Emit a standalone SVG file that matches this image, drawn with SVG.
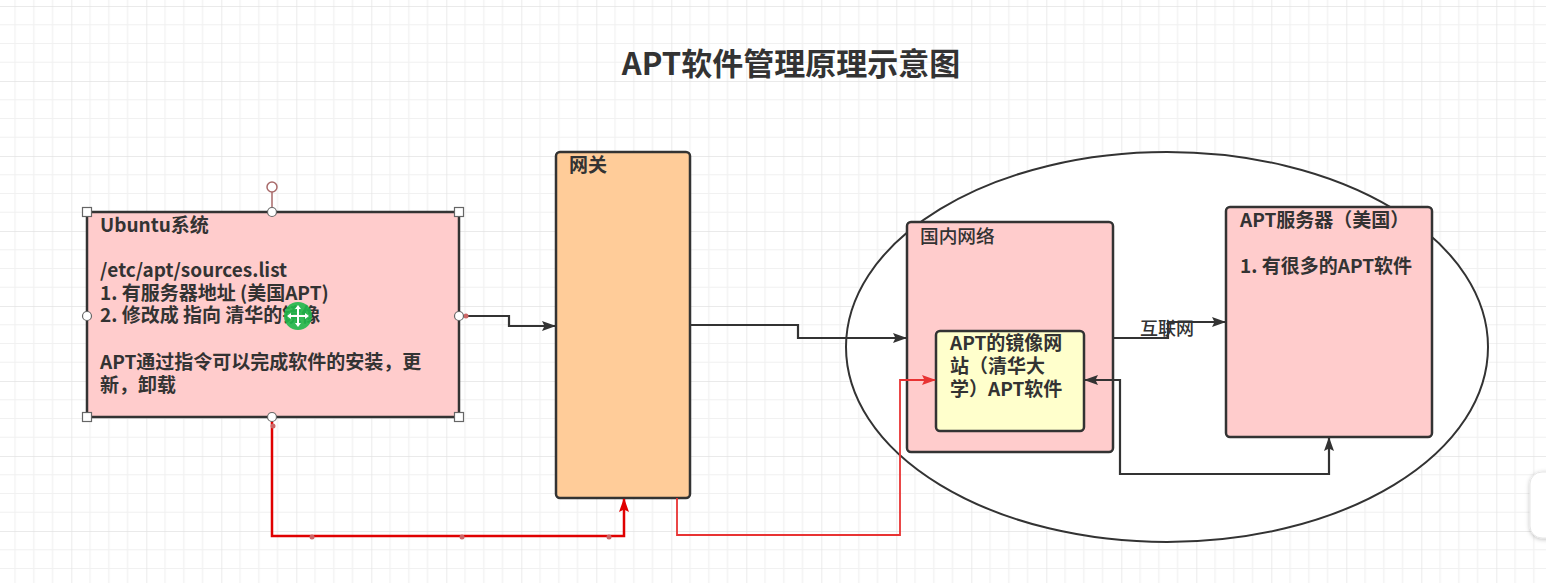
<svg xmlns="http://www.w3.org/2000/svg" width="1546" height="583" viewBox="0 0 1546 583">
<defs>
<pattern id="grid" patternUnits="userSpaceOnUse" x="-3.7" y="6" width="75" height="75">
<rect width="75" height="75" fill="#ffffff"/>
<path d="M18.75,0V75M37.5,0V75M56.25,0V75M0,18.75H75M0,37.5H75M0,56.25H75" stroke="#f1f1f1" stroke-width="1.2" fill="none"/>
<path d="M0,0V75M0,0H75" stroke="#e3e3e3" stroke-width="1.4" fill="none"/>
</pattern>
<marker id="arrK" viewBox="0 0 14 10" refX="13" refY="5" markerWidth="14" markerHeight="10" orient="auto-start-reverse" markerUnits="userSpaceOnUse">
<path d="M0,0 L14,5 L0,10 L2.5,5 z" fill="#333333"/>
</marker>
<marker id="arrR" viewBox="0 0 14 10" refX="13" refY="5" markerWidth="14" markerHeight="10" orient="auto" markerUnits="userSpaceOnUse">
<path d="M0,0 L14,5 L0,10 L2.5,5 z" fill="#e00000"/>
</marker>
<marker id="arrR2" viewBox="0 0 14 10" refX="13" refY="5" markerWidth="14" markerHeight="10" orient="auto" markerUnits="userSpaceOnUse">
<path d="M0,0 L14,5 L0,10 L2.5,5 z" fill="#e83333"/>
</marker>
<filter id="shadow" x="-50%" y="-50%" width="200%" height="200%">
<feDropShadow dx="0" dy="1" stdDeviation="2" flood-color="#000" flood-opacity="0.25"/>
</filter>
</defs>
<style>
text{font-family:"Noto Sans CJK SC","Noto Sans",sans-serif;fill:#333333;}
.b{font-weight:700;font-size:19px;}
.m{font-weight:500;font-size:18.7px;}
.box{stroke:#333333;stroke-width:2.5;}
.pink{fill:#ffcccc;}
.conn{fill:none;stroke:#333333;stroke-width:2.2;}
.red{fill:none;stroke:#e00000;stroke-width:2.5;}
.red2{fill:none;stroke:#e83333;stroke-width:1.8;}
.h{fill:#ffffff;stroke:#666666;stroke-width:1.2;}
.dot{fill:#cc6666;}
</style>
<rect width="1546" height="583" fill="url(#grid)"/>

<text x="791" y="75" text-anchor="middle" style="font-weight:700;font-size:31px">APT软件管理原理示意图</text>

<g id="internet-cloud">
<ellipse cx="1167" cy="347" rx="321" ry="195" fill="#ffffff" stroke="#333333" stroke-width="2"/>
</g>

<g id="ubuntu">
<rect class="box pink" x="87" y="212" width="372" height="205"/>
<text class="b"><tspan x="100" y="232">Ubuntu系统</tspan><tspan x="100" y="277">/etc/apt/sources.list</tspan><tspan x="100" y="300">1. 有服务器地址 (美国APT)</tspan><tspan x="100" y="322">2. 修改成 指向 清华的镜像</tspan><tspan x="100" y="369">APT通过指令可以完成软件的安装，更</tspan><tspan x="100" y="392">新，卸载</tspan></text>
</g>

<g id="gateway">
<rect class="box" x="556" y="152" width="134" height="346" rx="4" fill="#ffcc99"/>
<text class="b" x="569" y="172">网关</text>
</g>

<g id="domestic">
<rect class="box pink" x="907" y="222" width="206" height="230" rx="4"/>
<text class="m" x="920" y="243">国内网络</text>
</g>

<g id="mirror">
<rect class="box" x="936" y="331" width="148" height="100" rx="4" fill="#ffffcc"/>
<text class="b"><tspan x="950" y="350">APT的镜像网</tspan><tspan x="950" y="373">站（清华大</tspan><tspan x="950" y="396">学）APT软件</tspan></text>
</g>

<g id="apt-server">
<rect class="box pink" x="1226" y="207" width="206" height="230" rx="4"/>
<text class="b"><tspan x="1240" y="227">APT服务器（美国）</tspan><tspan x="1240" y="273">1. 有很多的APT软件</tspan></text>
</g>

<g id="connectors">
<path class="conn" d="M459,316 H509 V326 H555" marker-end="url(#arrK)"/>
<path class="conn" d="M690,325 H798 V338 H906" marker-end="url(#arrK)"/>
<path class="conn" d="M1113,338 H1168 V322 H1225" marker-end="url(#arrK)"/>
<path class="conn" d="M1085,380 H1120 V474 H1329 V438" marker-start="url(#arrK)" marker-end="url(#arrK)"/>
<path class="red" d="M272,417 V536 H624 V499" marker-end="url(#arrR)"/>
<path class="red2" d="M677,498 V535 H900 V380 H935" marker-end="url(#arrR2)"/>
<text x="1140" y="335" style="font-size:18px;font-weight:500">互联网</text>
<circle class="dot" cx="466" cy="316" r="2.5"/>
<circle class="dot" cx="273" cy="426" r="2.5"/>
<circle class="dot" cx="312" cy="537" r="2.5"/>
<circle class="dot" cx="462" cy="537" r="2.5"/>
<circle class="dot" cx="609" cy="537" r="2.5"/>
</g>

<g id="selection">
<line x1="272" y1="192" x2="272" y2="207" stroke="#a86a6a" stroke-width="1.5"/>
<circle cx="272" cy="187" r="5" fill="#ffffff" stroke="#a86a6a" stroke-width="1.5"/>
<rect class="h" x="82.5" y="207.5" width="9" height="9"/>
<rect class="h" x="454.5" y="207.5" width="9" height="9"/>
<rect class="h" x="82.5" y="412.5" width="9" height="9"/>
<rect class="h" x="454.5" y="412.5" width="9" height="9"/>
<circle class="h" cx="272" cy="212" r="4.5"/>
<circle class="h" cx="272" cy="417" r="4.5"/>
<circle class="h" cx="87" cy="316" r="4.5"/>
<circle class="h" cx="459" cy="316" r="4.5"/>
<circle cx="298" cy="316" r="14" fill="#1fb84a" opacity="0.9"/>
<path d="M298,307 V325 M289,316 H307" stroke="#ffffff" stroke-width="2"/>
<path d="M298,305 l-3,4 h6 z M298,327 l-3,-4 h6 z M287,316 l4,-3 v6 z M309,316 l-4,-3 v6 z" fill="#ffffff"/>
</g>

<rect x="1530" y="472" width="40" height="66" rx="12" fill="#ffffff" stroke="#e6e6e6" filter="url(#shadow)"/>
</svg>
